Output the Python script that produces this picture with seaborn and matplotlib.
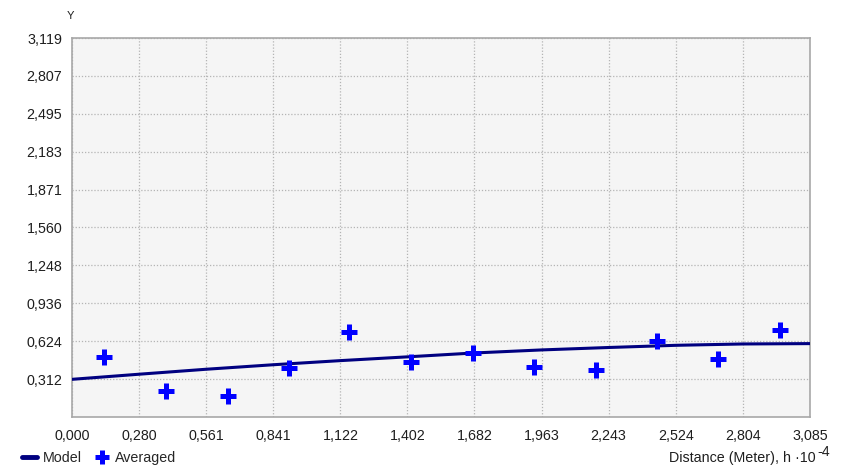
import matplotlib
matplotlib.use("Agg")
import matplotlib.pyplot as plt
import seaborn as sns
import pandas as pd
from matplotlib.lines import Line2D

# Data
x_ticks = [0.000, 0.280, 0.561, 0.841, 1.122, 1.402, 1.682, 1.963, 2.243, 2.524, 2.804, 3.085]
x_tick_labels = ["0,000", "0,280", "0,561", "0,841", "1,122", "1,402", "1,682", "1,963",
                 "2,243", "2,524", "2,804", "3,085"]
y_ticks = [0.312, 0.624, 0.936, 1.248, 1.560, 1.871, 2.183, 2.495, 2.807, 3.119]
y_tick_labels = ["0,312", "0,624", "0,936", "1,248", "1,560", "1,871", "2,183", "2,495",
                 "2,807", "3,119"]

avg_x = [0.134, 0.393, 0.652, 0.907, 1.158, 1.417, 1.676, 1.931, 2.190, 2.445, 2.700, 2.960]
avg_y = [0.494, 0.214, 0.173, 0.403, 0.700, 0.453, 0.527, 0.411, 0.387, 0.625, 0.477, 0.716]

model_x = x_ticks
model_y = [0.310, 0.352, 0.393, 0.430, 0.464, 0.495, 0.527, 0.552, 0.572, 0.590, 0.601, 0.604]

avg_df = pd.DataFrame({"x": avg_x, "y": avg_y})
model_df = pd.DataFrame({"x": model_x, "y": model_y})

sns.set_style("white")
plt.rcParams["font.family"] = ["Liberation Sans", "DejaVu Sans"]
FS = 10.3
TXT = "#1E1E1E"

fig = plt.figure(figsize=(8.54, 4.71), dpi=100)
ax = fig.add_axes([72 / 854, 1 - 417 / 471, (810 - 72) / 854, (417 - 38) / 471])
ax.set_facecolor("#F5F5F5")

sns.lineplot(data=model_df, x="x", y="y", ax=ax, color="#000080", linewidth=2.2, zorder=3)
sns.scatterplot(data=avg_df, x="x", y="y", ax=ax, marker="+", s=120, linewidth=3.6,
                color="#0000FF", zorder=4)

ax.set_xlim(0, 3.085)
ax.set_ylim(0, 3.119)
ax.set_xticks(x_ticks)
ax.set_xticklabels(x_tick_labels)
ax.set_yticks(y_ticks)
ax.set_yticklabels(y_tick_labels)
ax.tick_params(axis="both", length=0, labelsize=FS, colors=TXT)
ax.tick_params(axis="x", pad=9)
ax.tick_params(axis="y", pad=7)
ax.grid(True, color="#B4B4B4", linestyle=(0, (1, 1.5)), linewidth=0.9)
ax.set_axisbelow(True)
for s in ax.spines.values():
    s.set_color("#A8A8A8")
    s.set_linewidth(1.2)
ax.set_xlabel("")
ax.set_ylabel("")

fig.text(70 / 854, 1 - 16 / 471, "Y", fontsize=8, color=TXT, ha="center", va="center")
fig.text(816 / 854, 1 - 458 / 471, "Distance (Meter), h \u00b710",
         fontsize=FS, color=TXT, ha="right", va="center")
fig.text(817 / 854, 1 - 452 / 471, "-4",
         fontsize=FS, color=TXT, ha="left", va="center")

handles = [Line2D([0], [0], color="#000080", linewidth=3.5),
           Line2D([0], [0], linestyle="none", marker="+", markersize=10,
                  markeredgewidth=3.6, color="#0000FF")]
fig.legend(handles, ["Model", "Averaged"], loc="center left",
           bbox_to_anchor=(22 / 854, 1 - 458 / 471), ncol=2, frameon=False,
           fontsize=FS, handlelength=1.05, handletextpad=0.4, columnspacing=0.9,
           borderaxespad=0, borderpad=0)

fig.savefig("out.png", dpi=100)
